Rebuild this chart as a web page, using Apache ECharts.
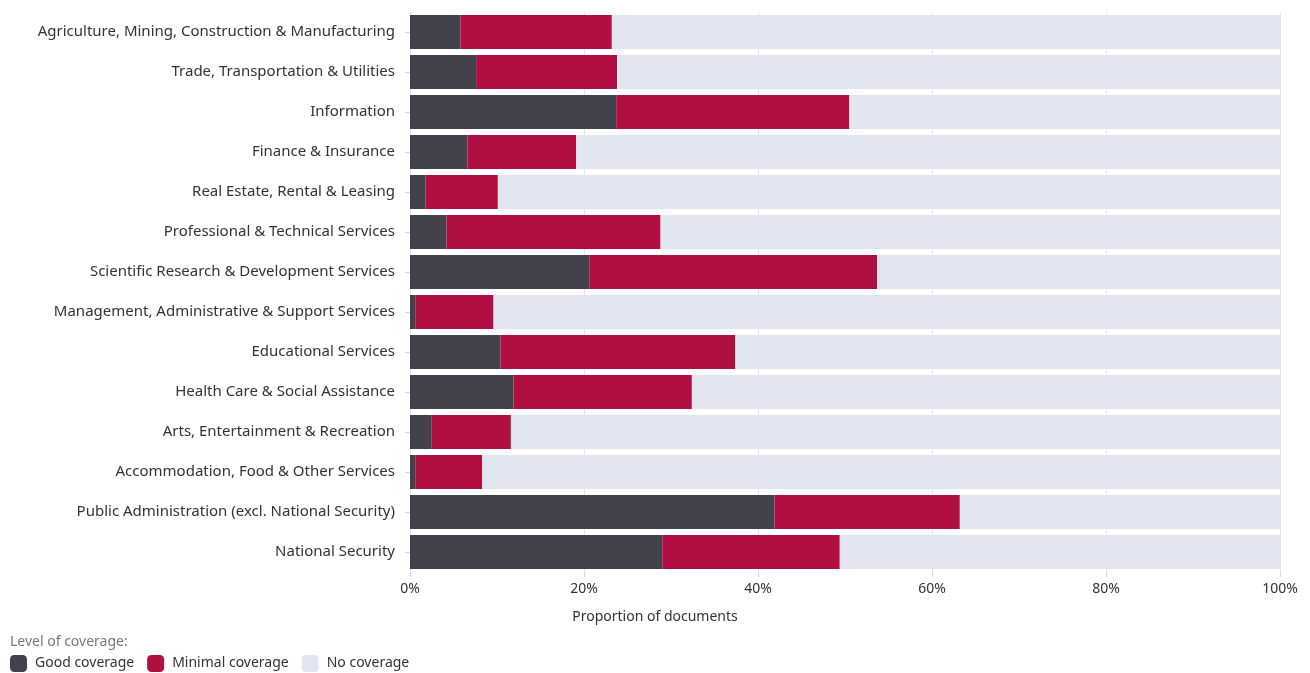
<!DOCTYPE html>
<html>
<head>
<meta charset="utf-8">
<script src="https://cdn.jsdelivr.net/npm/echarts@6/dist/echarts.min.js"></script>
<style>
html,body{margin:0;padding:0;background:#fff;}
#chart{width:1310px;height:673px;}
</style>
</head>
<body>
<div id="chart"></div>
<script>
// 行业类别
var industries = [
    'Agriculture, Mining, Construction & Manufacturing',
    'Trade, Transportation & Utilities',
    'Information',
    'Finance & Insurance',
    'Real Estate, Rental & Leasing',
    'Professional & Technical Services',
    'Scientific Research & Development Services',
    'Management, Administrative & Support Services',
    'Educational Services',
    'Health Care & Social Assistance',
    'Arts, Entertainment & Recreation',
    'Accommodation, Food & Other Services',
    'Public Administration (excl. National Security)',
    'National Security'
];
// 各覆盖程度比例(%)
var goodCoverage    = [5.8, 7.6, 23.7, 6.6, 1.8, 4.2, 20.6, 0.6, 10.4, 11.9, 2.5, 0.6, 41.9, 29.0];
var minimalCoverage = [17.4, 16.2, 26.8, 12.5, 8.3, 24.6, 33.1, 9.0, 27.0, 20.5, 9.1, 7.7, 21.3, 20.4];
var noCoverage      = [76.8, 76.2, 49.5, 80.9, 89.9, 71.2, 46.3, 90.4, 62.6, 67.6, 88.4, 91.7, 36.8, 50.6];
var xTicks = [0, 20, 40, 60, 80, 100];

var chart = echarts.init(document.getElementById('chart'));
var font = 'Noto Sans';
var option = {
    color: ['#42414c', '#b01041', '#e1e5f0'],
    textStyle: {fontFamily: font},
    animation: false,
    title: [
        {
            text: 'Level of coverage:',
            left: 5,
            top: 630,
            textStyle: {fontSize: 14, fontWeight: 'normal', color: '#777', fontFamily: font}
        },
        {   // x轴名称, 整图居中
            text: 'Proportion of documents',
            left: 'center',
            top: 605,
            textStyle: {fontSize: 14, fontWeight: 'normal', color: '#333', fontFamily: font}
        }
    ],
    legend: {
        data: ['Good coverage', 'Minimal coverage', 'No coverage'],
        left: 5,
        top: 650,
        itemWidth: 17,
        itemHeight: 17,
        itemGap: 13,
        icon: 'roundRect',
        textStyle: {fontSize: 14, color: '#333', fontFamily: font, padding: [0, 0, 0, 3]}
    },
    grid: {
        left: 410,
        right: 30,
        top: 12,
        bottom: 101,
        containLabel: false
    },
    xAxis: {
        type: 'value',
        min: xTicks[0],
        max: xTicks[xTicks.length - 1],
        interval: 20,
        axisLine: {show: false},
        axisTick: {show: true, length: 5, lineStyle: {color: '#d6d6d6'}},
        axisLabel: {formatter: '{value}%', fontSize: 14, color: '#333', margin: 10},
        splitLine: {show: true, lineStyle: {color: '#e6e6e6'}}
    },
    yAxis: {
        type: 'category',
        inverse: true,
        data: industries,
        axisLine: {show: false},
        axisTick: {show: true, alignWithLabel: true, length: 5, lineStyle: {color: '#d6d6d6'}},
        axisLabel: {fontSize: 15, color: '#333', margin: 15}
    },
    series: [
        {name: 'Good coverage', type: 'bar', stack: 'total', barCategoryGap: '15%', data: goodCoverage},
        {name: 'Minimal coverage', type: 'bar', stack: 'total', barCategoryGap: '15%', data: minimalCoverage},
        {name: 'No coverage', type: 'bar', stack: 'total', barCategoryGap: '15%', data: noCoverage}
    ]
};
chart.setOption(option);
</script>
</body>
</html>
